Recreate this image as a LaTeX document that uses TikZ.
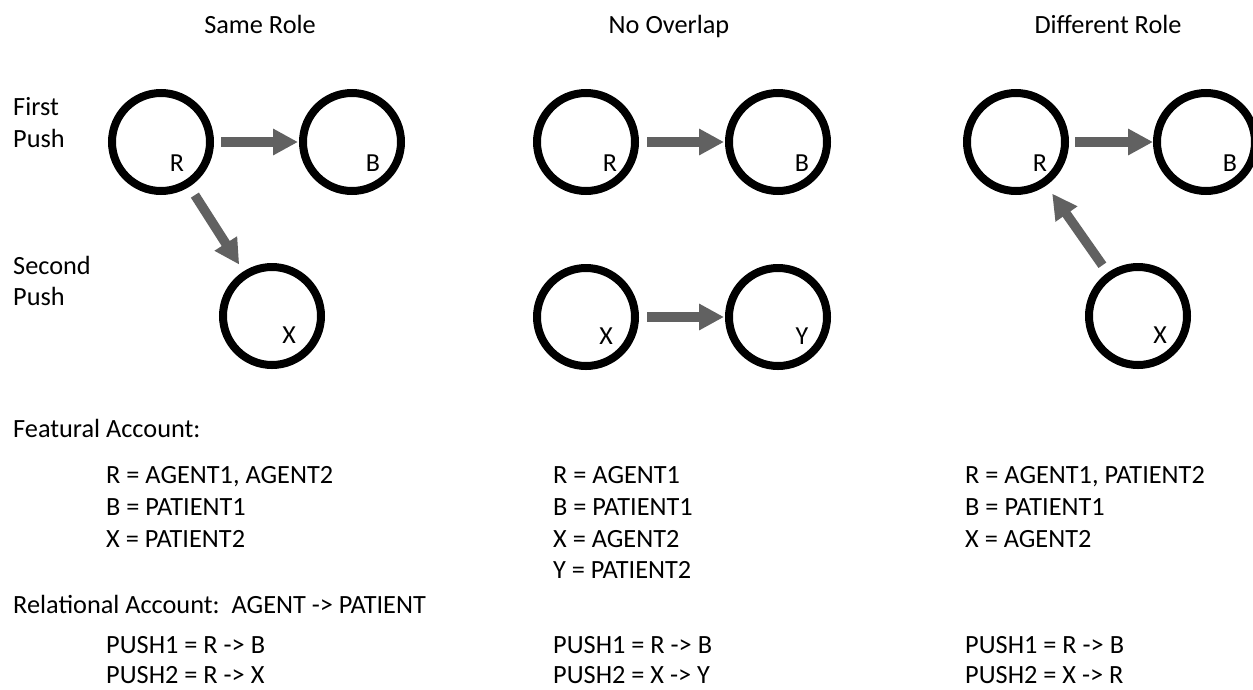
\documentclass[tikz,border=0pt]{standalone}
\usepackage{fontspec}
\setmainfont{Carlito}
\usetikzlibrary{arrows.meta,calc}

\tikzset{
  ball/.style={circle, draw=black, line width=8pt, minimum size=98pt, inner sep=0pt},
  letter/.style={anchor=center, inner sep=0pt, font=\fontsize{26}{31}\selectfont},
  txt/.style={anchor=base west, inner sep=0pt, font=\fontsize{26.3}{31}\selectfont},
  head/.style={anchor=base, inner sep=0pt, font=\fontsize{26.3}{31}\selectfont},
  push/.style={draw=black!62, line width=9.5pt, -{Triangle[width=25pt,length=25pt]}}
}

\begin{document}
\begin{tikzpicture}[x=1pt, y=-1pt]
  \clip (0,0) rectangle (1253,689);
  \fill[white] (0,0) rectangle (1253,689);

  % column headings
  \node[head] (h1) at (260,33) {Same Role};
  \node[head] (h2) at (669,33) {No Overlap};
  \node[head] (h3) at (1108,33) {Different Role};

  % row labels
  \node[txt] (fp1) at (13,115) {First};
  \node[txt] (fp2) at (13,147) {Push};
  \node[txt] (sp1) at (13,274) {Second};
  \node[txt] (sp2) at (13,305) {Push};

  % Same Role
  \node[ball] (r1) at (161,142) {};
  \node[ball] (b1) at (352,142) {};
  \node[ball] (x1) at (272,316) {};
  \node[letter] (lr1) at (177,163) {R};
  \node[letter] (lb1) at (373,163) {B};
  \node[letter] (lx1) at (289,335) {X};
  \draw[push, shorten <=7pt, shorten >=1pt] (r1) -- (b1);
  \draw[push, shorten <=10pt, shorten >=8pt] (r1) -- (x1);

  % No Overlap
  \node[ball] (r2) at (586,142) {};
  \node[ball] (b2) at (778,142) {};
  \node[ball] (x2) at (586,317) {};
  \node[ball] (y2) at (778,317) {};
  \node[letter] (lr2) at (610,163) {R};
  \node[letter] (lb2) at (802,163) {B};
  \node[letter] (lx2) at (606,336) {X};
  \node[letter] (ly2) at (802,336) {Y};
  \draw[push, shorten <=8pt, shorten >=1pt] (r2) -- (b2);
  \draw[push, shorten <=8pt, shorten >=1pt] (x2) -- (y2);

  % Different Role
  \node[ball] (r3) at (1016,142) {};
  \node[ball] (b3) at (1206,142) {};
  \node[ball] (x3) at (1138,316) {};
  \node[letter] (lr3) at (1040,163) {R};
  \node[letter] (lb3) at (1230,163) {B};
  \node[letter] (lx3) at (1160,335) {X};
  \draw[push, shorten <=6pt, shorten >=0pt] (r3) -- (b3);
  \draw[push, shorten <=9pt, shorten >=10pt] (x3) -- (r3);

  % featural account
  \node[txt] (fa) at (13,437) {Featural Account:};
  \node[txt] (f11) at (106,483) {R = AGENT1, AGENT2};
  \node[txt] (f12) at (106,515) {B = PATIENT1};
  \node[txt] (f13) at (106,547) {X = PATIENT2};
  \node[txt] (f21) at (553,483) {R = AGENT1};
  \node[txt] (f22) at (553,515) {B = PATIENT1};
  \node[txt] (f23) at (553,547) {X = AGENT2};
  \node[txt] (f24) at (553,578) {Y = PATIENT2};
  \node[txt] (f31) at (965,483) {R = AGENT1, PATIENT2};
  \node[txt] (f32) at (965,515) {B = PATIENT1};
  \node[txt] (f33) at (965,547) {X = AGENT2};

  % relational account
  \node[txt] (ra) at (13,613) {Relational Account:\ \ AGENT -> PATIENT};
  \node[txt] (p11) at (106,653) {PUSH1 = R -> B};
  \node[txt] (p12) at (106,683) {PUSH2 = R -> X};
  \node[txt] (p21) at (553,653) {PUSH1 = R -> B};
  \node[txt] (p22) at (553,683) {PUSH2 = X -> Y};
  \node[txt] (p31) at (965,653) {PUSH1 = R -> B};
  \node[txt] (p32) at (965,683) {PUSH2 = X -> R};
\end{tikzpicture}
\end{document}
